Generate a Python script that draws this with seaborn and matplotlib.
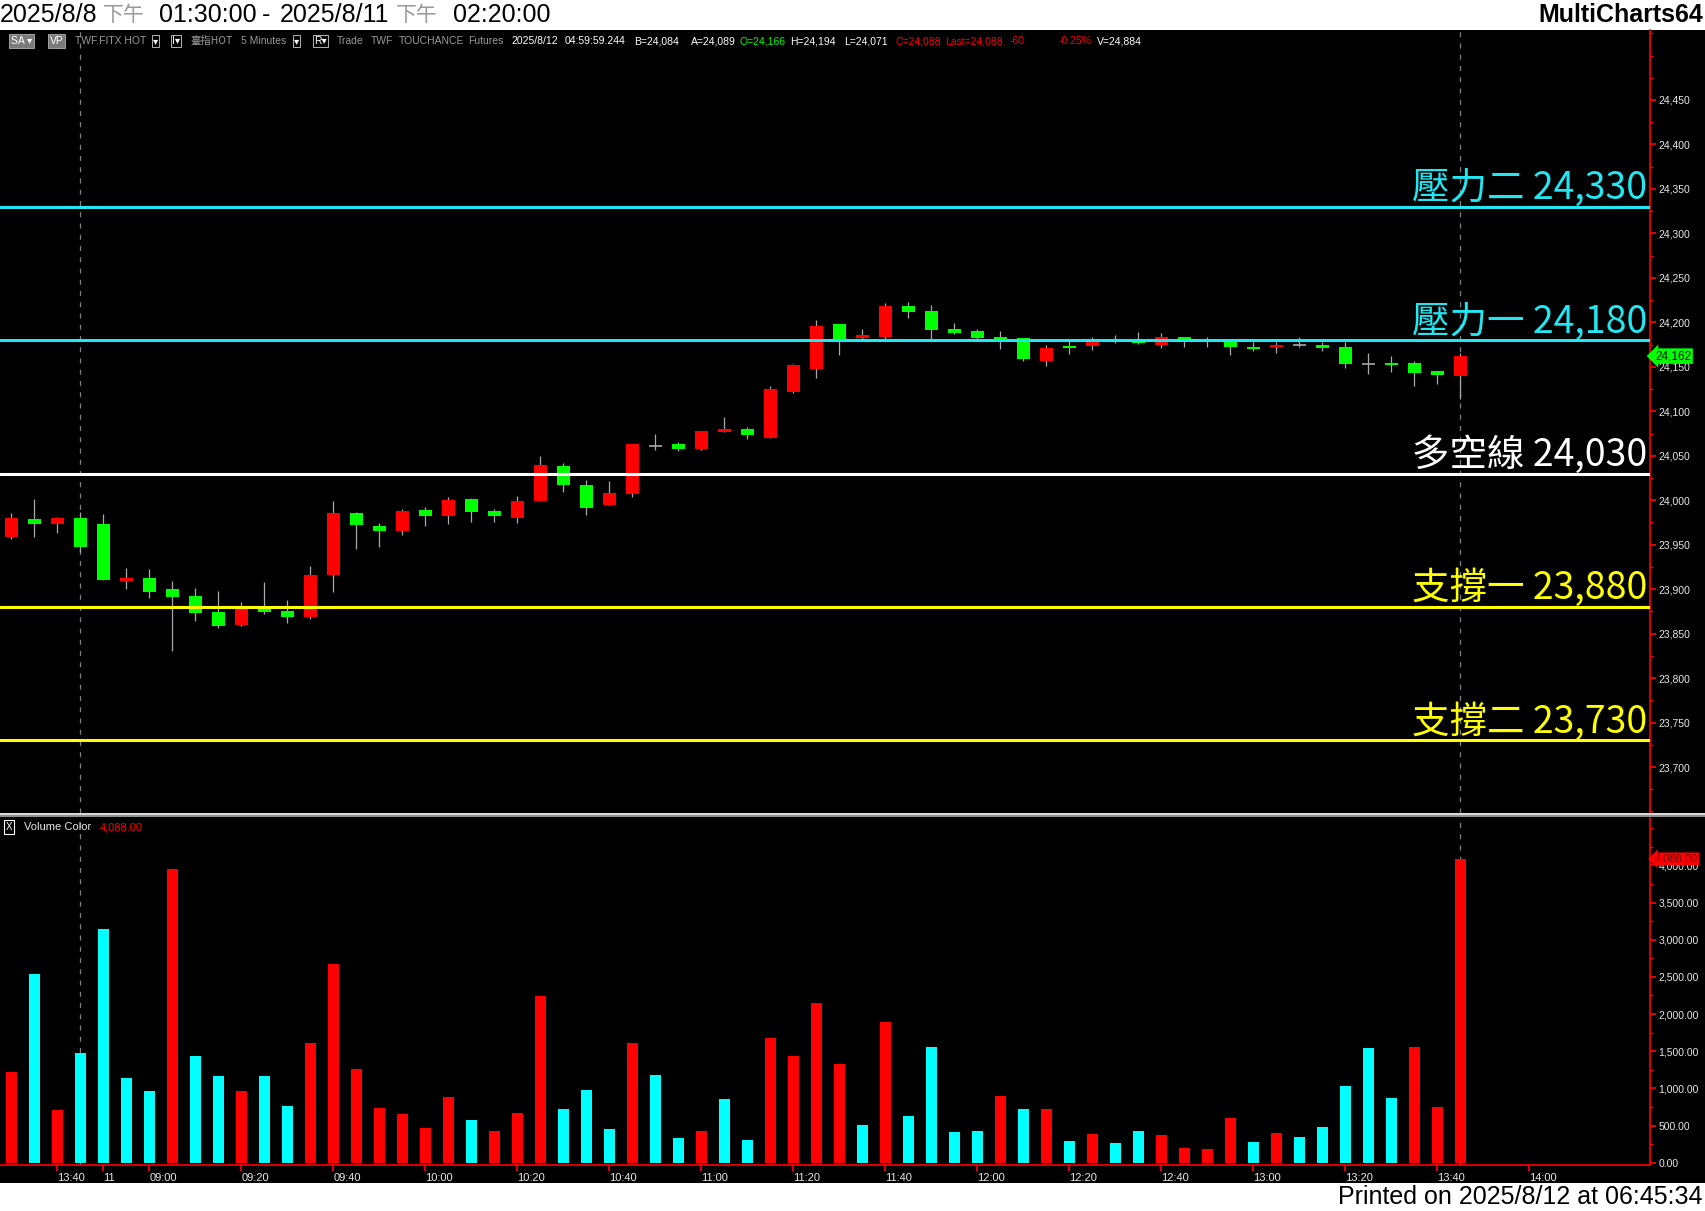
import pandas as pd
import seaborn as sns
import matplotlib.pyplot as plt
from matplotlib import font_manager
from matplotlib.lines import Line2D
from matplotlib.patches import Rectangle
from matplotlib.ticker import FuncFormatter, MultipleLocator
from matplotlib.transforms import blended_transform_factory


# 5-minute bars, TWF.FITX, 2025/8/8 13:30 -> 2025/8/11 13:45
OPEN = [23959, 23979, 23973, 23980, 23973, 23909, 23912, 23900, 23892, 23874,
        23860, 23879, 23875, 23869, 23916, 23986, 23971, 23965, 23989, 23982,
        24001, 23988, 23980, 23999, 24039, 24017, 23995, 24007, 24061, 24063,
        24058, 24077, 24080, 24070, 24122, 24148, 24198, 24182, 24184, 24218,
        24213, 24193, 24190, 24184, 24182, 24157, 24173, 24173, 24180, 24180,
        24175, 24184, 24180, 24180, 24172, 24172, 24174, 24175, 24172, 24153,
        24154, 24154, 24145, 24140]
HIGH = [23986, 24001, 23981, 23987, 23984, 23924, 23923, 23909, 23901, 23898,
        23885, 23908, 23888, 23926, 23999, 23987, 23974, 23990, 23992, 24004,
        24003, 23990, 24005, 24050, 24042, 24023, 24022, 24063, 24075, 24066,
        24078, 24093, 24082, 24128, 24153, 24203, 24198, 24193, 24222, 24223,
        24220, 24199, 24193, 24190, 24182, 24175, 24179, 24184, 24186, 24189,
        24188, 24184, 24184, 24180, 24178, 24178, 24184, 24178, 24178, 24166,
        24162, 24157, 24145, 24166]
LOW = [23956, 23959, 23963, 23942, 23910, 23900, 23890, 23831, 23864, 23856,
       23859, 23872, 23862, 23866, 23897, 23945, 23947, 23961, 23971, 23973,
       23976, 23976, 23974, 23999, 24009, 23983, 23995, 24004, 24057, 24055,
       24057, 24077, 24069, 24070, 24121, 24137, 24163, 24181, 24181, 24205,
       24180, 24187, 24180, 24170, 24157, 24151, 24164, 24169, 24177, 24176,
       24171, 24172, 24172, 24163, 24168, 24166, 24172, 24168, 24149, 24142,
       24144, 24128, 24131, 24114]
CLOSE = [23980, 23973, 23980, 23947, 23910, 23912, 23897, 23891, 23873, 23858,
         23880, 23874, 23869, 23916, 23986, 23972, 23965, 23988, 23982, 24000,
         23987, 23982, 23999, 24040, 24017, 23991, 24008, 24063, 24061, 24058,
         24078, 24080, 24073, 24125, 24152, 24196, 24179, 24186, 24218, 24212,
         24191, 24188, 24182, 24181, 24159, 24171, 24171, 24178, 24180, 24177,
         24184, 24180, 24180, 24172, 24170, 24175, 24174, 24171, 24153, 24153,
         24152, 24143, 24141, 24162]
VOLUME = [1219, 2536, 708, 1474, 3140, 1138, 963, 3947, 1434, 1165,
          963, 1165, 762, 1608, 2670, 1259, 735, 654, 466, 883,
          573, 426, 668, 2240, 721, 977, 452, 1608, 1178, 332,
          426, 856, 305, 1676, 1434, 2146, 1326, 506, 1891, 627,
          1555, 412, 426, 896, 721, 721, 291, 385, 264, 426,
          372, 197, 184, 600, 278, 399, 345, 479, 1030, 1541,
          869, 1555, 748, 4088]
VOL_DIR = ['up', 'dn', 'up', 'dn', 'dn', 'dn', 'dn', 'up', 'dn', 'dn',
           'up', 'dn', 'dn', 'up', 'up', 'up', 'up', 'up', 'up', 'up',
           'dn', 'up', 'up', 'up', 'dn', 'dn', 'dn', 'up', 'dn', 'dn',
           'up', 'dn', 'dn', 'up', 'up', 'up', 'up', 'dn', 'up', 'dn',
           'dn', 'dn', 'dn', 'up', 'dn', 'up', 'dn', 'up', 'dn', 'dn',
           'up', 'up', 'up', 'up', 'dn', 'up', 'dn', 'dn', 'dn', 'dn',
           'dn', 'up', 'up', 'up']

TIME_TICKS = [2, 4, 6, 10, 14, 18, 22, 26, 30, 34, 38, 42, 46, 50, 54, 58, 62, 66]
TIME_LABELS = ['13:40', '11', '09:00', '09:20', '09:40', '10:00', '10:20', '10:40',
               '11:00', '11:20', '11:40', '12:00', '12:20', '12:40', '13:00',
               '13:20', '13:40', '14:00']
SESSION_ENDS = [3, 63]

LEVEL_NAMES = ['壓力二', '壓力一', '多空線', '支撐一', '支撐二']
LEVEL_VALUES = [24330, 24180, 24030, 23880, 23730]
LEVEL_COLORS = ['#22E6F2', '#22E6F2', '#FFFFFF', '#FFFF00', '#FFFF00']

W, H = 1705, 1211


def fx(px):
    return px / W


def fy(py):
    return 1 - py / H


sns.set_theme(style="dark", rc={"axes.facecolor": "black", "figure.facecolor": "white"})
names = {f.name for f in font_manager.fontManager.ttflist}
NARROW = 'Liberation Sans Narrow' if 'Liberation Sans Narrow' in names else 'Liberation Sans'
CJK = 'Noto Sans CJK TC'
plt.rcParams['font.family'] = [NARROW, 'DejaVu Sans']

fig = plt.figure(figsize=(W / 100, H / 100), dpi=100)
fig.add_artist(Rectangle((0, fy(1183)), 1, (1183 - 30) / H, transform=fig.transFigure,
                         facecolor='black', edgecolor='none', zorder=-10))

ax_p = fig.add_axes([0, fy(813), fx(1650), (813 - 30) / H])
ax_v = fig.add_axes([0, fy(1165), fx(1650), (1165 - 818) / H])

df = pd.DataFrame({'idx': range(len(OPEN)), 'open': OPEN, 'high': HIGH,
                   'low': LOW, 'close': CLOSE, 'volume': VOLUME, 'vdir': VOL_DIR})

# --- price pane: candles
ax_p.vlines(df['idx'], df['low'], df['high'], color='#A8A8A8', lw=0.9, zorder=2)
body = df[df['close'] != df['open']]
ax_p.bar(body['idx'], (body['close'] - body['open']).abs(),
         bottom=body[['open', 'close']].min(axis=1), width=0.56,
         color=['#FF0000' if c > o else '#00FF00' for o, c in zip(body['open'], body['close'])],
         edgecolor='none', linewidth=0, zorder=3)
doji = df[df['close'] == df['open']]
ax_p.hlines(doji['open'], doji['idx'] - 0.3, doji['idx'] + 0.3, color='#A8A8A8', lw=1.2, zorder=3)

for name, val, col in zip(LEVEL_NAMES, LEVEL_VALUES, LEVEL_COLORS):
    ax_p.axhline(val, color=col, lw=2.2, zorder=4)
    ax_p.annotate(f'{name} {val:,}', xy=(0.9985, val),
                  xycoords=blended_transform_factory(ax_p.transAxes, ax_p.transData),
                  xytext=(0, -1), textcoords='offset points', ha='right', va='bottom',
                  fontsize=27, color=col, family=[CJK, 'DejaVu Sans'], zorder=5)

ax_p.set_xlim(-0.5, 71.24)
ax_p.set_ylim(23648.3, 24528.7)
ax_p.yaxis.tick_right()
ax_p.set_yticks(range(23700, 24451, 50))
ax_p.yaxis.set_minor_locator(MultipleLocator(25))
ax_p.yaxis.set_major_formatter(FuncFormatter(lambda v, p: f'{v:,.0f}'))
ax_p.tick_params(axis='y', which='both', colors='red', labelcolor='#E8E8E8',
                 labelsize=7.5, pad=2, direction='out', right=True)
ax_p.tick_params(axis='y', which='major', length=4)
ax_p.tick_params(axis='y', which='minor', length=2)
ax_p.set_xticks([])
ax_p.set_xlabel('')
ax_p.set_ylabel('')
for side in ['top', 'bottom', 'left']:
    ax_p.spines[side].set_visible(False)
ax_p.spines['right'].set_color('red')
ax_p.spines['right'].set_linewidth(1.2)

ax_p.text(1.003, CLOSE[-1], f'{CLOSE[-1]:,}',
          transform=blended_transform_factory(ax_p.transAxes, ax_p.transData),
          ha='left', va='center', fontsize=8.5, color='black', zorder=6, clip_on=False,
          bbox=dict(boxstyle='larrow,pad=0.15', fc='#00FF00', ec='none'))

# --- volume pane
sns.barplot(data=df, x='idx', y='volume', hue='vdir', palette={'up': '#FF0000', 'dn': '#00FFFF'},
            native_scale=True, dodge=False, width=0.48, saturation=1, errorbar=None,
            legend=False, ax=ax_v, zorder=3, edgecolor='none', linewidth=0)
ax_v.set_xlim(-0.5, 71.24)
ax_v.set_ylim(-31, 4637)
ax_v.yaxis.tick_right()
ax_v.set_yticks(range(0, 4001, 500))
ax_v.yaxis.set_minor_locator(MultipleLocator(250))
ax_v.yaxis.set_major_formatter(FuncFormatter(lambda v, p: f'{v:,.2f}'))
ax_v.tick_params(axis='y', which='both', colors='red', labelcolor='#E8E8E8',
                 labelsize=7.5, pad=2, direction='out', right=True)
ax_v.tick_params(axis='y', which='major', length=4)
ax_v.tick_params(axis='y', which='minor', length=2)
ax_v.set_xticks(TIME_TICKS)
ax_v.set_xticklabels(TIME_LABELS, ha='left')
ax_v.tick_params(axis='x', colors='red', labelcolor='#E8E8E8', labelsize=8,
                 length=4, pad=2, direction='out', bottom=True)
ax_v.set_xlabel('')
ax_v.set_ylabel('')
for side in ['top', 'left']:
    ax_v.spines[side].set_visible(False)
for side in ['right', 'bottom']:
    ax_v.spines[side].set_color('red')
    ax_v.spines[side].set_linewidth(1.2)

ax_v.text(1.003, VOLUME[-1], f'{VOLUME[-1]:,.2f}',
          transform=blended_transform_factory(ax_v.transAxes, ax_v.transData),
          ha='left', va='center', fontsize=8, color='#700000', zorder=6, clip_on=False,
          bbox=dict(boxstyle='larrow,pad=0.12', fc='#FF0000', ec='none'))

for ax in (ax_p, ax_v):
    for x in SESSION_ENDS:
        ax.axvline(x, color='#808080', lw=0.9, dashes=(4, 5), zorder=1)
    ax.grid(False)

# pane separator
fig.add_artist(Line2D([0, 1], [fy(813.5), fy(813.5)], transform=fig.transFigure, color='#F0F0F0', lw=1.3))
fig.add_artist(Line2D([0, 1], [fy(816), fy(816)], transform=fig.transFigure, color='#A0A0A0', lw=1.3))

# volume study label
fig.text(fx(6), fy(827), 'X', fontsize=7, color='white', va='center',
         bbox=dict(boxstyle='square,pad=0.2', fc='black', ec='white', lw=0.8))
fig.text(fx(24), fy(827), 'Volume Color', fontsize=8, color='#E8E8E8', va='center')
fig.text(fx(100), fy(827), '4,088.00', fontsize=8, color='#FF0000', va='center')

# title strip
gray = '#9A9A9A'
title_parts = [(0, '2025/8/8', 'black', NARROW), (103, '下午', gray, CJK),
               (159, '01:30:00', 'black', NARROW), (262, '-', 'black', NARROW),
               (280, '2025/8/11', 'black', NARROW), (396, '下午', gray, CJK),
               (453, '02:20:00', 'black', NARROW)]
for x, s, col, fam in title_parts:
    fig.text(fx(x), fy(15), s, fontsize=18 if fam == NARROW else 15, color=col,
             family=[fam, 'DejaVu Sans'], va='center', ha='left')
fig.text(fx(1703), fy(15), 'MultiCharts64', fontsize=18, weight='bold', color='black',
         va='center', ha='right')
fig.text(fx(1703), fy(1197), 'Printed on 2025/8/12 at 06:45:34', fontsize=18, color='black',
         va='center', ha='right')

# header row
hy = fy(41)
box = dict(boxstyle='square,pad=0.15', fc='#7A7A7A', ec='#B0B0B0', lw=0.6)
drop = dict(boxstyle='square,pad=0.1', fc='black', ec='#D0D0D0', lw=0.6)
fig.text(fx(11), hy, 'SA ▾', fontsize=7.5, color='white', va='center', bbox=box)
fig.text(fx(50), hy, 'VP', fontsize=7.5, color='white', va='center', bbox=box)
fig.text(fx(153), hy, '▾', fontsize=7.5, color='white', va='center', bbox=drop)
fig.text(fx(172), hy, 'I▾', fontsize=7.5, color='white', va='center', bbox=drop)
fig.text(fx(294), hy, '▾', fontsize=7.5, color='white', va='center', bbox=drop)
fig.text(fx(314), hy, 'R▾', fontsize=7.5, color='white', va='center', bbox=drop)
header_parts = [(75, 'TWF.FITX HOT', gray), (190, '臺指HOT', gray), (241, '5 Minutes', gray),
                (337, 'Trade', gray), (371, 'TWF', gray), (399, 'TOUCHANCE', gray),
                (468, 'Futures', gray), (511, '2025/8/12', 'white'), (565, '04:59:59.244', 'white'),
                (634, 'B=24,084', 'white'), (691, 'A=24,089', 'white'), (739, 'O=24,166', '#00FF00'),
                (790, 'H=24,194', 'white'), (844, 'L=24,071', 'white'), (896, 'C=24,088', '#FF0000'),
                (945, 'Last=24,088', '#FF0000'), (1010, '-60', '#FF0000'), (1059, '-0.25%', '#FF0000'),
                (1097, 'V=24,884', 'white')]
for x, s, col in header_parts:
    fam = [CJK, 'DejaVu Sans'] if '臺' in s else [NARROW, 'DejaVu Sans']
    fig.text(fx(x), hy, s, fontsize=7.5, color=col, va='center', ha='left', family=fam)

fig.savefig('out.png', dpi=100)
plt.close(fig)
